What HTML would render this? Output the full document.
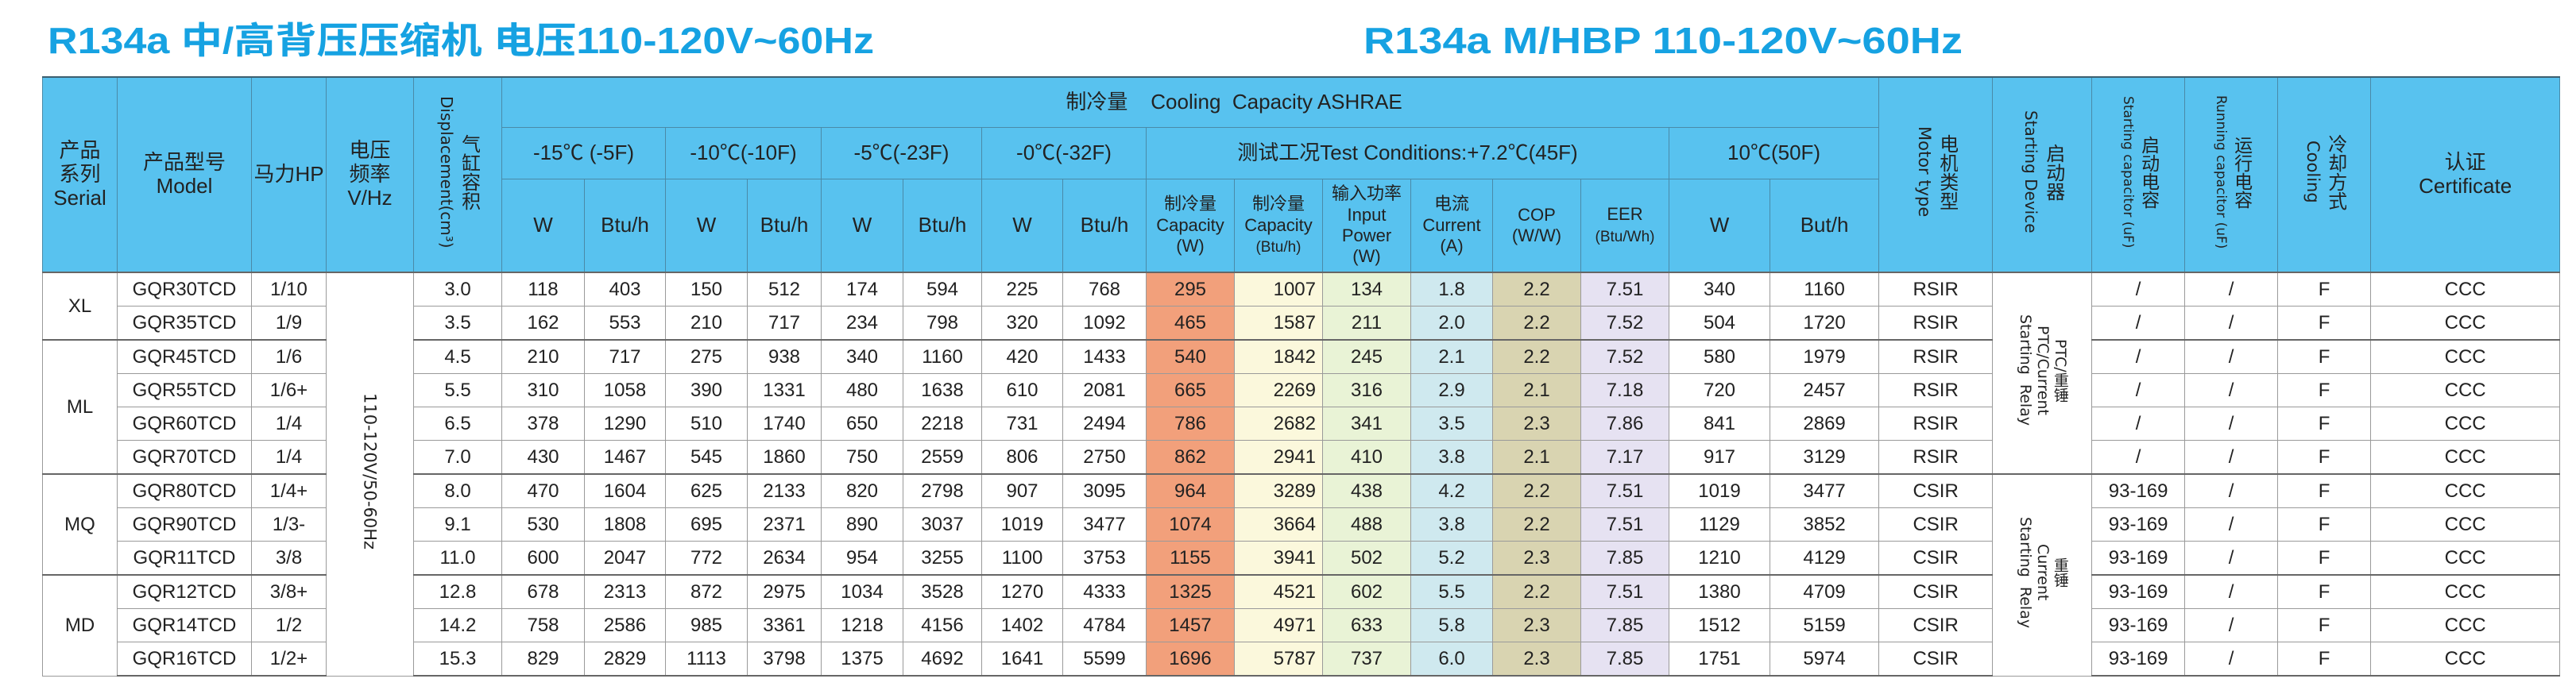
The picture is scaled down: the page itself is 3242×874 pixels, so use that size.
<!DOCTYPE html>
<html><head><meta charset="utf-8">
<style>
html,body{margin:0;padding:0;background:#fff;width:3242px;height:874px;overflow:hidden;position:relative}
body{font-family:"Liberation Sans","Noto Sans CJK SC",sans-serif;color:#222}
svg.t{position:absolute;left:0;top:0}
table{position:absolute;left:53px;top:96px;border-collapse:collapse;table-layout:fixed;width:3168px}
td{padding:0;text-align:center;vertical-align:middle;overflow:hidden;white-space:nowrap}
thead td{background:#58c2ef;border:1.5px solid #4a8aa8;font-size:26px;line-height:1.15}
thead tr.r1 td{height:62px;border-top:2px solid #3d5f70}
thead tr.r2 td{height:64px}
thead tr.r3 td{height:116px}
tbody td{height:41px;border:1.5px solid #9a9a9a;font-size:24px}
tbody tr.g td{border-top:2px solid #666}
tbody tr.last td{border-bottom:2px solid #666}
.v{display:inline-block;writing-mode:vertical-rl;text-align:center;line-height:1.15;max-height:240px;overflow:hidden}
.dv{font-family:'DejaVu Sans',sans-serif}
.sm{font-size:22px;line-height:1.2}
.xs{font-size:19px}
.c1{background:#f2a07b}.c2{background:#fbf8dc;text-align:right;padding-right:8px}.c3{background:#e9f3d6}.c4{background:#cfe9ef}.c5{background:#d9d4b1}.c6{background:#e6e2f2}
</style></head><body>
<svg class="t" width="3242" height="96">
<text x="60" y="67" font-family="Liberation Sans,Noto Sans CJK SC,sans-serif" font-weight="bold" font-size="46" fill="#16a2e2" textLength="1040" lengthAdjust="spacingAndGlyphs">R134a  中/高背压压缩机  电压110-120V~60Hz</text>
<text x="1716" y="67" font-family="Liberation Sans,sans-serif" font-weight="bold" font-size="46" fill="#16a2e2" textLength="754" lengthAdjust="spacingAndGlyphs">R134a  M/HBP  110-120V~60Hz</text>
</svg>
<table>
<colgroup>
<col style="width:94px"><col style="width:169px"><col style="width:94px"><col style="width:110px"><col style="width:111px">
<col style="width:104px"><col style="width:102px"><col style="width:103px"><col style="width:93px"><col style="width:103px"><col style="width:99px"><col style="width:102px"><col style="width:105px">
<col style="width:111px"><col style="width:111px"><col style="width:111px"><col style="width:103px"><col style="width:111px"><col style="width:111px">
<col style="width:127px"><col style="width:137px">
<col style="width:143px"><col style="width:125px"><col style="width:117px"><col style="width:117px"><col style="width:117px"><col style="width:238px">
</colgroup>
<thead>
<tr class="r1">
<td rowspan="3">产品<br>系列<br>Serial</td>
<td rowspan="3">产品型号<br>Model</td>
<td rowspan="3">马力HP</td>
<td rowspan="3">电压<br>频率<br>V/Hz</td>
<td rowspan="3"><div class="v" style="font-size:24px">气缸容积<br><span class="dv" style="font-size:20px">Displacement(cm³)</span></div></td>
<td colspan="16" style="padding-left:110px">制冷量&nbsp;&nbsp;&nbsp;&nbsp;Cooling&nbsp;&nbsp;Capacity ASHRAE</td>
<td rowspan="3"><div class="v" style="font-size:24px">电机类型<br><span class="dv" style="font-size:21px">Motor type</span></div></td>
<td rowspan="3"><div class="v" style="font-size:24px">启动器<br><span class="dv" style="font-size:20px">Starting Device</span></div></td>
<td rowspan="3"><div class="v" style="font-size:23px">启动电容<br><span class="dv" style="font-size:17px">Starting capacitor (uF)</span></div></td>
<td rowspan="3"><div class="v" style="font-size:23px">运行电容<br><span class="dv" style="font-size:17px">Running capacitor (uF)</span></div></td>
<td rowspan="3"><div class="v" style="font-size:24px">冷却方式<br><span class="dv" style="font-size:21px">Cooling</span></div></td>
<td rowspan="3">认证<br>Certificate</td>
</tr>
<tr class="r2">
<td colspan="2">-15℃ (-5F)</td><td colspan="2">-10℃(-10F)</td><td colspan="2">-5℃(-23F)</td><td colspan="2">-0℃(-32F)</td>
<td colspan="6">测试工况Test Conditions:+7.2℃(45F)</td><td colspan="2">10℃(50F)</td>
</tr>
<tr class="r3">
<td>W</td><td>Btu/h</td><td>W</td><td>Btu/h</td><td>W</td><td>Btu/h</td><td>W</td><td>Btu/h</td>
<td class="sm">制冷量<br>Capacity<br>(W)</td><td class="sm">制冷量<br>Capacity<br><span class="xs">(Btu/h)</span></td><td class="sm">输入功率<br>Input<br>Power<br>(W)</td><td class="sm">电流<br>Current<br>(A)</td><td class="sm">COP<br>(W/W)</td><td class="sm">EER<br><span class="xs">(Btu/Wh)</span></td>
<td>W</td><td>But/h</td>
</tr>
</thead>
<tbody>
<tr class="g"><td rowspan="2">XL</td><td>GQR30TCD</td><td>1/10</td><td rowspan="12" style="border-top:2px solid #666"><div class="v dv" style="font-size:21px">110-120V/50-60Hz</div></td><td>3.0</td><td>118</td><td>403</td><td>150</td><td>512</td><td>174</td><td>594</td><td>225</td><td>768</td><td class="c1">295</td><td class="c2">1007</td><td class="c3">134</td><td class="c4">1.8</td><td class="c5">2.2</td><td class="c6">7.51</td><td>340</td><td>1160</td><td>RSIR</td><td rowspan="6" style="border-top:2px solid #666"><div class="v" style="font-size:19px;font-family:'DejaVu Sans','Noto Sans CJK SC',sans-serif">PTC/重锤<br>PTC/Current<br>Starting&nbsp;&nbsp;Relay</div></td><td>/</td><td>/</td><td>F</td><td>CCC</td></tr>
<tr><td>GQR35TCD</td><td>1/9</td><td>3.5</td><td>162</td><td>553</td><td>210</td><td>717</td><td>234</td><td>798</td><td>320</td><td>1092</td><td class="c1">465</td><td class="c2">1587</td><td class="c3">211</td><td class="c4">2.0</td><td class="c5">2.2</td><td class="c6">7.52</td><td>504</td><td>1720</td><td>RSIR</td><td>/</td><td>/</td><td>F</td><td>CCC</td></tr>
<tr class="g"><td rowspan="4">ML</td><td>GQR45TCD</td><td>1/6</td><td>4.5</td><td>210</td><td>717</td><td>275</td><td>938</td><td>340</td><td>1160</td><td>420</td><td>1433</td><td class="c1">540</td><td class="c2">1842</td><td class="c3">245</td><td class="c4">2.1</td><td class="c5">2.2</td><td class="c6">7.52</td><td>580</td><td>1979</td><td>RSIR</td><td>/</td><td>/</td><td>F</td><td>CCC</td></tr>
<tr><td>GQR55TCD</td><td>1/6+</td><td>5.5</td><td>310</td><td>1058</td><td>390</td><td>1331</td><td>480</td><td>1638</td><td>610</td><td>2081</td><td class="c1">665</td><td class="c2">2269</td><td class="c3">316</td><td class="c4">2.9</td><td class="c5">2.1</td><td class="c6">7.18</td><td>720</td><td>2457</td><td>RSIR</td><td>/</td><td>/</td><td>F</td><td>CCC</td></tr>
<tr><td>GQR60TCD</td><td>1/4</td><td>6.5</td><td>378</td><td>1290</td><td>510</td><td>1740</td><td>650</td><td>2218</td><td>731</td><td>2494</td><td class="c1">786</td><td class="c2">2682</td><td class="c3">341</td><td class="c4">3.5</td><td class="c5">2.3</td><td class="c6">7.86</td><td>841</td><td>2869</td><td>RSIR</td><td>/</td><td>/</td><td>F</td><td>CCC</td></tr>
<tr><td>GQR70TCD</td><td>1/4</td><td>7.0</td><td>430</td><td>1467</td><td>545</td><td>1860</td><td>750</td><td>2559</td><td>806</td><td>2750</td><td class="c1">862</td><td class="c2">2941</td><td class="c3">410</td><td class="c4">3.8</td><td class="c5">2.1</td><td class="c6">7.17</td><td>917</td><td>3129</td><td>RSIR</td><td>/</td><td>/</td><td>F</td><td>CCC</td></tr>
<tr class="g"><td rowspan="3">MQ</td><td>GQR80TCD</td><td>1/4+</td><td>8.0</td><td>470</td><td>1604</td><td>625</td><td>2133</td><td>820</td><td>2798</td><td>907</td><td>3095</td><td class="c1">964</td><td class="c2">3289</td><td class="c3">438</td><td class="c4">4.2</td><td class="c5">2.2</td><td class="c6">7.51</td><td>1019</td><td>3477</td><td>CSIR</td><td rowspan="6"><div class="v" style="font-size:19px;font-family:'DejaVu Sans','Noto Sans CJK SC',sans-serif">重锤<br>Current<br>Starting&nbsp;&nbsp;Relay</div></td><td>93-169</td><td>/</td><td>F</td><td>CCC</td></tr>
<tr><td>GQR90TCD</td><td>1/3-</td><td>9.1</td><td>530</td><td>1808</td><td>695</td><td>2371</td><td>890</td><td>3037</td><td>1019</td><td>3477</td><td class="c1">1074</td><td class="c2">3664</td><td class="c3">488</td><td class="c4">3.8</td><td class="c5">2.2</td><td class="c6">7.51</td><td>1129</td><td>3852</td><td>CSIR</td><td>93-169</td><td>/</td><td>F</td><td>CCC</td></tr>
<tr><td>GQR11TCD</td><td>3/8</td><td>11.0</td><td>600</td><td>2047</td><td>772</td><td>2634</td><td>954</td><td>3255</td><td>1100</td><td>3753</td><td class="c1">1155</td><td class="c2">3941</td><td class="c3">502</td><td class="c4">5.2</td><td class="c5">2.3</td><td class="c6">7.85</td><td>1210</td><td>4129</td><td>CSIR</td><td>93-169</td><td>/</td><td>F</td><td>CCC</td></tr>
<tr class="g"><td rowspan="3">MD</td><td>GQR12TCD</td><td>3/8+</td><td>12.8</td><td>678</td><td>2313</td><td>872</td><td>2975</td><td>1034</td><td>3528</td><td>1270</td><td>4333</td><td class="c1">1325</td><td class="c2">4521</td><td class="c3">602</td><td class="c4">5.5</td><td class="c5">2.2</td><td class="c6">7.51</td><td>1380</td><td>4709</td><td>CSIR</td><td>93-169</td><td>/</td><td>F</td><td>CCC</td></tr>
<tr><td>GQR14TCD</td><td>1/2</td><td>14.2</td><td>758</td><td>2586</td><td>985</td><td>3361</td><td>1218</td><td>4156</td><td>1402</td><td>4784</td><td class="c1">1457</td><td class="c2">4971</td><td class="c3">633</td><td class="c4">5.8</td><td class="c5">2.3</td><td class="c6">7.85</td><td>1512</td><td>5159</td><td>CSIR</td><td>93-169</td><td>/</td><td>F</td><td>CCC</td></tr>
<tr class="last"><td>GQR16TCD</td><td>1/2+</td><td>15.3</td><td>829</td><td>2829</td><td>1113</td><td>3798</td><td>1375</td><td>4692</td><td>1641</td><td>5599</td><td class="c1">1696</td><td class="c2">5787</td><td class="c3">737</td><td class="c4">6.0</td><td class="c5">2.3</td><td class="c6">7.85</td><td>1751</td><td>5974</td><td>CSIR</td><td>93-169</td><td>/</td><td>F</td><td>CCC</td></tr>
</tbody>
</table>
</body></html>
